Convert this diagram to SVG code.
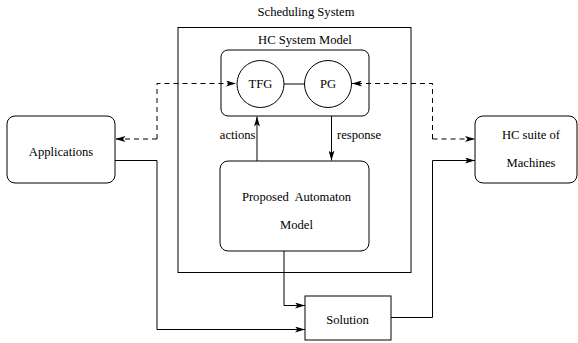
<svg xmlns="http://www.w3.org/2000/svg" width="578" height="343" viewBox="0 0 578 343">
<style>
.b{fill:none;stroke:#000;stroke-width:1}
.t{font-family:"Liberation Serif","Times New Roman",serif;font-size:12.6px;fill:#000;text-anchor:middle;dominant-baseline:central}
.c{fill:none;stroke:#000;stroke-width:1}
.d{stroke-dasharray:5,4}
</style>
<defs>
<marker id="a" viewBox="0 0 10 6" refX="10" refY="3" markerWidth="10" markerHeight="6" markerUnits="userSpaceOnUse" orient="auto">
<path d="M0,0 L10,3 L0,6 L2.5,3 Z" fill="#000"/>
</marker>
</defs>
<rect width="578" height="343" fill="#fff"/>
<g id="scheduling-system">
<rect class="b" x="178" y="27.5" width="233" height="245"/>
<text class="t" x="306" y="11.5">Scheduling System</text>
</g>
<g id="hc-system-model">
<rect class="b" x="221" y="50" width="148" height="66" rx="7"/>
<text class="t" x="305" y="39.5">HC System Model</text>
</g>
<g id="tfg">
<circle class="b" cx="260.5" cy="84" r="23.5"/>
<text class="t" x="260.5" y="84">TFG</text>
</g>
<g id="pg">
<circle class="b" cx="328" cy="84" r="23.5"/>
<text class="t" x="328" y="84">PG</text>
</g>
<g id="applications">
<rect class="b" x="7" y="116" width="108" height="67" rx="8"/>
<text class="t" x="61" y="152">Applications</text>
</g>
<g id="hc-suite">
<rect class="b" x="475" y="116" width="102" height="67" rx="8"/>
<text class="t" x="531" y="135">HC suite of</text>
<text class="t" x="531" y="163">Machines</text>
</g>
<g id="automaton">
<rect class="b" x="220" y="161" width="149" height="90" rx="8"/>
<text class="t" x="296.5" y="196.5" xml:space="preserve">Proposed  Automaton</text>
<text class="t" x="296.5" y="225">Model</text>
</g>
<g id="solution">
<rect class="b" x="305" y="296" width="86" height="44"/>
<text class="t" x="347.5" y="320">Solution</text>
</g>
<g id="connectors">
<line class="c" x1="284" y1="84" x2="304.5" y2="84"/>
<polyline class="c d" points="157,139 157,83.5 236,83.5" marker-end="url(#a)"/>
<polyline class="c d" points="157,139 115.5,139" marker-end="url(#a)"/>
<polyline class="c d" points="432.5,139 432.5,83.5 352,83.5" marker-end="url(#a)"/>
<polyline class="c d" points="432.5,139 475,139" marker-end="url(#a)"/>
<line class="c" x1="257" y1="161" x2="257" y2="116.5" marker-end="url(#a)"/>
<text class="t" x="255.5" y="135" style="text-anchor:end">actions</text>
<line class="c" x1="331.5" y1="116" x2="331.5" y2="160.5" marker-end="url(#a)"/>
<text class="t" x="337" y="135" style="text-anchor:start">response</text>
<polyline class="c" points="284,251 284,305.5 305,305.5" marker-end="url(#a)"/>
<polyline class="c" points="115,160.5 157,160.5 157,329.5 305,329.5" marker-end="url(#a)"/>
<polyline class="c" points="391,317.5 432.5,317.5 432.5,160.5 475,160.5" marker-end="url(#a)"/>
</g>
</svg>
